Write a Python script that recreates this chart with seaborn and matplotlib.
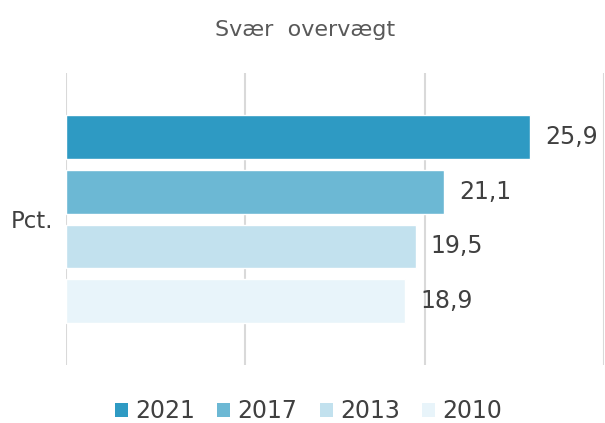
import matplotlib
matplotlib.use("Agg")
import matplotlib.pyplot as plt
import pandas as pd
import seaborn as sns
from matplotlib.patches import Patch

# data
CATEGORY = ["Pct."]
YEARS = ["2021", "2017", "2013", "2010"]
VALUES = [25.9, 21.1, 19.5, 18.9]
COLORS = ["#2E9AC3", "#6CB8D4", "#C2E1EE", "#E8F4FA"]
TITLE = "Svær  overvægt"

TEXT = "#404040"
TITLE_COL = "#595959"
GRID = "#D9D9D9"

sns.set_theme(style="white")
plt.rcParams["font.family"] = ["DejaVu Sans"]

df = pd.DataFrame({"kat": CATEGORY * len(YEARS), "aar": YEARS, "pct": VALUES})

fig = plt.figure(figsize=(6.05, 4.23), dpi=100)
ax = fig.add_axes([0.109, 0.137, 0.889, 0.690])

sns.barplot(data=df, y="kat", x="pct", hue="aar", hue_order=YEARS,
            palette=dict(zip(YEARS, COLORS)), orient="h", width=0.75,
            gap=0.2, legend=False, ax=ax, saturation=1)

for cont, v in zip(ax.containers, VALUES):
    ax.bar_label(cont, labels=[f"{v:.1f}".replace(".", ",")], padding=11,
                 fontsize=17, color=TEXT)

ax.set_xlim(0, 30)
ax.set_ylim(0.5, -0.5)
ax.set_xticks([0, 10, 20, 30])
ax.set_xticklabels([])
ax.grid(axis="x", color=GRID, linewidth=1.5)
ax.grid(axis="y", visible=False)
ax.set_axisbelow(True)
sns.despine(ax=ax, left=True, bottom=True)
ax.tick_params(axis="both", length=0)
ax.tick_params(axis="y", pad=9, labelsize=16.5, labelcolor=TEXT)
ax.set_xlabel("")
ax.set_ylabel("")

fig.text(0.505, 0.929, TITLE, ha="center", va="center", fontsize=16, color=TITLE_COL)

handles = [Patch(facecolor=c, edgecolor="none") for c in COLORS]
fig.legend(handles, YEARS, loc="center", bbox_to_anchor=(0.51, 0.028), ncol=4,
           frameon=False, fontsize=17, labelcolor=TEXT, handlelength=0.55,
           handleheight=0.55, handletextpad=0.3, columnspacing=0.95)

fig.savefig("out.png", dpi=100)
